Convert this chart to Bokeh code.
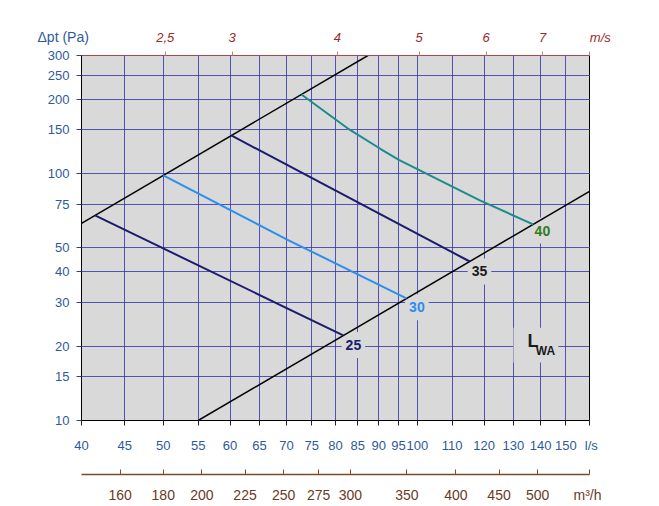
import numpy as np
from bokeh.plotting import figure
from bokeh.models import LinearAxis, FixedTicker, Grid, Range1d, LogScale, Label, Title, BoxAnnotation
from bokeh.embed import file_html
from bokeh.resources import INLINE

# ---------------- data ----------------
DUCT_AREA_M2 = 0.020106          # Ø160 duct -> velocity = flow / area
flow_ticks = [40, 45, 50, 55, 60, 65, 70, 75, 80, 85, 90, 95, 100, 110, 120, 130, 140, 150]
dp_ticks = [10, 15, 20, 30, 40, 50, 75, 100, 150, 200, 250, 300]
velocity_ticks = [2.5, 3, 4, 5, 6, 7]
velocity_labels = ["2,5", "3", "4", "5", "6", "7"]
m3h_ticks = [160, 180, 200, 225, 250, 275, 300, 350, 400, 450, 500]

# black system lines (l/s, Pa)
upper_q = [40, 87.4]
upper_dp = [62.8, 300]
lower_q = [55, 160]
lower_dp = [10, 84.6]

# constant sound power curves
lwa25_q = [41.5, 50, 81.7]
lwa25_dp = [67.6, 49.7, 22.1]
lwa30_q = [50, 70.1, 97.1]
lwa30_dp = [98.1, 54.0, 31.2]
lwa35_q = [60.2, 115.4]
lwa35_dp = [142.4, 44.0]
lwa40_q = [72.9, 82.6, 90.4, 95.1, 118.8, 137.2]
lwa40_dp = [208.6, 152.6, 125.8, 113.5, 77.6, 62.2]

Q_MIN, Q_MAX = 40, 160
DP_MIN, DP_MAX = 10, 300
V_MIN, V_MAX = Q_MIN / (DUCT_AREA_M2 * 1000), Q_MAX / (DUCT_AREA_M2 * 1000)
MH_MIN, MH_MAX = Q_MIN * 3.6, Q_MAX * 3.6

# ---------------- figure ----------------
BG = "#d9d9d9"
FONT = "Liberation Sans"
BLUE_TXT = "#2d5a9e"
GRID_C = "#3a3aa8"
RED_TXT = "#962a2a"
BROWN = "#7a4a2a"
NB = "\u00a0"

p = figure(frame_width=508, frame_height=365,
           x_axis_type="log", y_axis_type="log",
           x_range=Range1d(Q_MIN, Q_MAX), y_range=Range1d(DP_MIN, DP_MAX),
           x_axis_location=None, y_axis_location=None,
           output_backend="svg", toolbar_location=None, title=None,
           min_border_left=81, min_border_right=62, min_border_top=55, min_border_bottom=86)
p.background_fill_color = BG
p.border_fill_color = "white"
p.outline_line_color = "black"
p.outline_line_width = 1

p.extra_x_ranges = {"ms": Range1d(V_MIN, V_MAX), "mh": Range1d(MH_MIN, MH_MAX)}
p.extra_x_scales = {"ms": LogScale(), "mh": LogScale()}

# grids
gx = Grid(dimension=0, ticker=FixedTicker(ticks=flow_ticks[1:]), grid_line_color=GRID_C,
          grid_line_alpha=0.85, grid_line_width=1)
gy = Grid(dimension=1, ticker=FixedTicker(ticks=dp_ticks[1:-1]), grid_line_color=GRID_C,
          grid_line_alpha=0.85, grid_line_width=1)
p.add_layout(gx)
p.add_layout(gy)

# left axis
ya = LinearAxis(ticker=FixedTicker(ticks=dp_ticks))
ya.axis_line_color = "black"
ya.major_tick_line_color = "#3a3a9a"
ya.major_tick_out = 5
ya.major_tick_in = 0
ya.minor_tick_line_color = None
ya.major_label_standoff = 7
ya.major_label_text_font = FONT
ya.major_label_text_font_size = "13px"
ya.major_label_text_color = BLUE_TXT
p.add_layout(ya, "left")

# bottom axis l/s (unit shown as the label at the right edge)
xa = LinearAxis(ticker=FixedTicker(ticks=flow_ticks + [Q_MAX]))
xa.major_label_overrides = {Q_MAX: NB + "l/s"}
xa.axis_line_color = "black"
xa.major_tick_line_color = "#222222"
xa.major_tick_out = 5
xa.major_tick_in = 0
xa.minor_tick_line_color = None
xa.major_label_standoff = 12
xa.major_label_text_font = FONT
xa.major_label_text_font_size = "13px"
xa.major_label_text_color = BLUE_TXT
xa.axis_label = " "
xa.axis_label_standoff = 1
xa.axis_label_text_font_size = "13px"
p.add_layout(xa, "below")

# bottom axis m3/h
ma = LinearAxis(x_range_name="mh", ticker=FixedTicker(ticks=m3h_ticks + [MH_MAX]))
ma.major_label_overrides = {MH_MAX: "m³/h" + NB}
ma.axis_line_color = BROWN
ma.axis_line_width = 1.3
ma.major_tick_line_color = BROWN
ma.major_tick_out = 0
ma.major_tick_in = 5
ma.minor_tick_line_color = None
ma.major_label_standoff = 12
ma.major_label_text_font = FONT
ma.major_label_text_font_size = "14px"
ma.major_label_text_color = "#6b3a1f"
p.add_layout(ma, "below")

# top axis m/s
ta = LinearAxis(x_range_name="ms", ticker=FixedTicker(ticks=velocity_ticks + [V_MAX]))
ovr = {v: s for v, s in zip(velocity_ticks, velocity_labels)}
ovr[V_MAX] = NB * 6 + "m/s"
ta.major_label_overrides = ovr
ta.axis_line_color = "#a84848"
ta.major_tick_line_color = "#c98080"
ta.major_tick_out = 4
ta.major_tick_in = 0
ta.minor_tick_line_color = None
ta.major_label_standoff = 7
ta.major_label_text_font = FONT
ta.major_label_text_font_size = "13px"
ta.major_label_text_font_style = "italic"
ta.major_label_text_color = RED_TXT
p.add_layout(ta, "above")

# y-axis unit as a title placed in the same row as the m/s labels
p.add_layout(Title(text="Δpt (Pa)", align="left", offset=-44, standoff=-36, vertical_align="bottom",
                   text_font=FONT, text_font_size="14px", text_font_style="normal",
                   text_color=BLUE_TXT), "above")


# label boxes (under lines, above grid)
def num_label(x, y, text, color):
    lab = Label(x=x, y=y, text=text, text_align="center", text_baseline="middle",
                text_font=FONT, text_font_size="14px", text_font_style="bold",
                text_color=color, background_fill_color=BG, padding=(4, 8), level="underlay")
    p.add_layout(lab)


num_label(84.0, 20.2, "25", "#1c1c6e")
num_label(99.9, 28.7, "30", "#2b8ef0")
num_label(118.5, 40.1, "35", "#1a1a1a")
num_label(140.7, 58.7, "40", "#2f7d1e")

p.add_layout(BoxAnnotation(left=130.0, right=147.0, bottom=17.15, top=23.76, fill_color=BG,
                           fill_alpha=1, line_color=None, level="underlay"))
p.add_layout(Label(x=135.1, y=20.95, text="L", text_align="left", text_baseline="middle",
                   text_font=FONT, text_font_size="18px", text_font_style="bold",
                   text_color="#1a1a1a", level="underlay"))
p.add_layout(Label(x=138.2, y=19.17, text="WA", text_align="left", text_baseline="middle",
                   text_font=FONT, text_font_size="12px", text_font_style="bold",
                   text_color="#1a1a1a", level="underlay"))

# lines
p.line(upper_q, upper_dp, line_color="black", line_width=1.5)
p.line(lower_q, lower_dp, line_color="black", line_width=1.5)
p.line(lwa25_q, lwa25_dp, line_color="#1c1c6e", line_width=2)
p.line(lwa30_q, lwa30_dp, line_color="#2b8ef0", line_width=2)
p.line(lwa35_q, lwa35_dp, line_color="#1c1c6e", line_width=2)
p.line(lwa40_q, lwa40_dp, line_color="#1a8c8c", line_width=2)

open("out.html", "w").write(file_html(p, INLINE))
